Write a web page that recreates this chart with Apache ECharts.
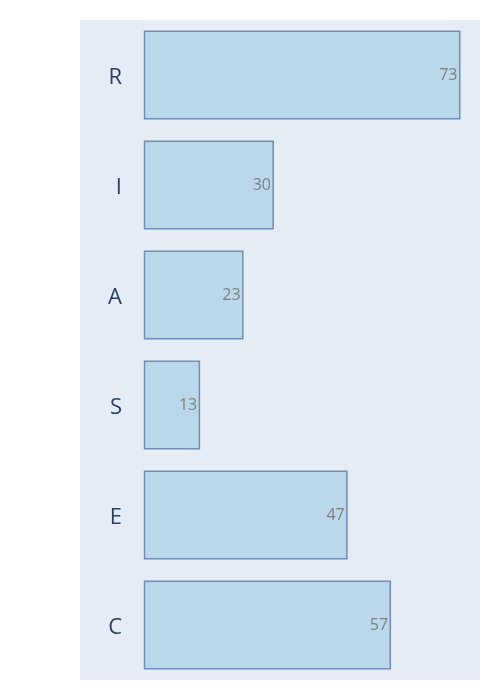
<!DOCTYPE html>
<html>
<head>
<meta charset="utf-8">
<script src="https://cdn.jsdelivr.net/npm/echarts@6/dist/echarts.min.js"></script>
<style>html,body{margin:0;padding:0;background:#fff}#c{width:500px;height:700px}</style>
</head>
<body>
<div id="c"></div>
<script>
const categories = ['R', 'I', 'A', 'S', 'E', 'C'];
const values = [73, 30, 23, 13, 47, 57];

const chart = echarts.init(document.getElementById('c'), null, {renderer: 'canvas'});
chart.setOption({
  animation: false,
  backgroundColor: '#ffffff',
  grid: {left: 80, right: 20, top: 20, bottom: 20, show: true, backgroundColor: '#e5ecf6', borderWidth: 0, containLabel: false},
  xAxis: {
    type: 'value', min: -14.7, max: 77.5,
    axisLine: {show: false}, axisTick: {show: false}, axisLabel: {show: false}, splitLine: {show: false}
  },
  yAxis: {
    type: 'category', data: categories, inverse: true,
    axisLine: {show: false}, axisTick: {show: false},
    axisLabel: {
      margin: -42, formatter: '{c|{value}}',
      rich: {c: {color: '#2a3f5f', fontSize: 22, fontFamily: 'Open Sans', padding: [5, 0, 0, 0]}}
    },
    splitLine: {show: false}
  },
  series: [{
    type: 'bar', data: values, barCategoryGap: '19%',
    itemStyle: {color: '#bad8ea', borderColor: '#6f8db5', borderWidth: 1.5},
    label: {show: true, position: 'insideRight', distance: 3, color: '#7f7f7f', fontSize: 16, fontFamily: 'Open Sans'}
  }]
});
</script>
</body>
</html>
